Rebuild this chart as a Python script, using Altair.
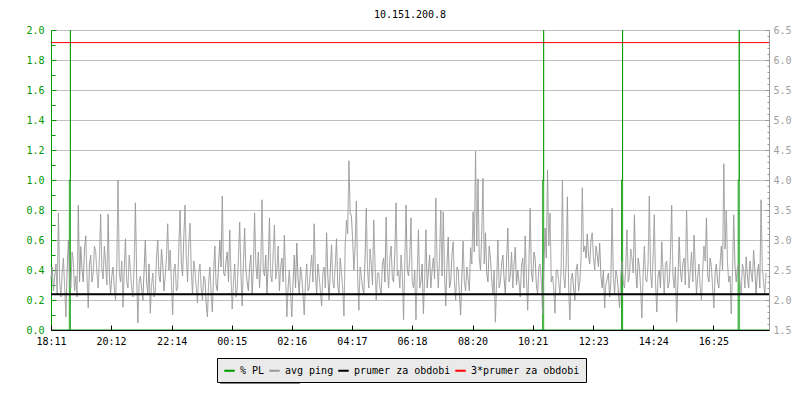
import json
import altair as alt
import pandas as pd

FONT = "DejaVu Sans Mono"
GREEN = "#009900"
GRAY = "#999999"

title_text = "10.151.200.8"

# x axis: minutes after 18:11
tick_labels = ["18:11", "20:12", "22:14", "00:15", "02:16", "04:17",
               "06:18", "08:20", "10:21", "12:23", "14:24", "16:25"]
tick_minutes = [0, 121, 243, 364, 485, 606, 727, 849, 970, 1092, 1213, 1334]
x_end = 1446
step_minutes = 2.5

# avg ping (ms), samples on the full 5-minute marks
ping_on_mark = [
    2.35, 2.15, 2.6, 3.45, 2.05, 2.7, 1.72, 3.0, 2.2, 2.65, 2.4, 3.58,
    2.89, 2.3, 3.07, 1.87, 2.75, 2.45, 2.8, 2.2, 3.43, 2.35, 2.6, 3.43,
    2.1, 2.55, 2.0, 4.0, 2.3, 1.88, 3.02, 2.2, 2.5, 2.05, 3.62, 1.62,
    2.4, 2.0, 3.0, 2.1, 1.78, 2.45, 2.15, 3.0, 2.3, 2.6, 2.4, 3.27,
    2.83, 1.75, 2.6, 2.2, 3.5, 2.4, 3.58, 2.3, 3.28, 2.1, 2.5, 1.95,
    2.6, 2.0, 2.35, 1.72, 2.55, 1.8, 2.9, 2.15, 3.0, 3.73, 2.4, 2.8,
    3.17, 1.85, 2.6, 2.2, 3.3, 1.9, 3.2, 2.3, 2.55, 2.1, 3.45, 2.35,
    2.2, 3.67, 2.4, 2.1, 3.37, 2.3, 3.25, 2.5, 2.15, 2.7, 3.08, 1.72,
    2.5, 1.72, 2.75, 2.95, 2.1, 2.4, 1.75, 2.6, 2.2, 2.75, 3.27, 2.1,
    2.4, 1.9, 2.55, 3.12, 2.0, 2.92, 2.2, 3.02, 2.1, 2.45, 1.73, 3.33,
    4.32, 3.4, 2.5, 3.65, 1.83, 2.4, 2.1, 3.53, 2.2, 2.6, 3.33, 2.0,
    2.45, 2.1, 2.7, 3.38, 2.2, 2.9, 2.3, 3.62, 2.5, 2.75, 1.67, 3.58,
    2.4, 3.37, 2.2, 1.67, 3.17, 2.3, 1.77, 3.17, 2.45, 2.2, 2.7, 3.7,
    2.2, 3.5, 3.47, 1.9, 3.05, 2.3, 2.97, 2.0, 2.5, 1.75, 2.98, 2.15,
    2.35, 2.87, 3.47, 4.48, 4.02, 2.5, 4.03, 3.12, 2.3, 2.7, 2.1, 1.63,
    3.0, 2.3, 2.75, 2.1, 3.2, 2.4, 2.2, 2.88, 2.5, 2.05, 2.7, 3.07,
    1.83, 3.53, 2.3, 2.7, 2.1, 2.6, 1.77, 3.2, 4.17, 3.45, 2.4, 1.78,
    2.5, 2.1, 4.0, 2.2, 3.72, 1.67, 2.45, 2.0, 2.6, 2.3, 3.87, 2.9,
    3.1, 2.6, 3.12, 2.5, 2.75, 2.95, 2.2, 1.87, 2.35, 2.05, 3.53, 2.1,
    2.4, 1.87, 2.65, 2.2, 3.17, 2.4, 2.7, 3.42, 2.2, 2.55, 1.7, 2.9,
    2.3, 3.73, 2.2, 3.42, 1.8, 2.5, 2.97, 2.1, 2.65, 2.3, 3.58, 2.2,
    1.63, 3.05, 2.3, 2.7, 3.5, 2.2, 2.8, 3.08, 2.1, 2.6, 2.0, 2.9,
    3.37, 2.3, 2.55, 1.87, 2.6, 2.2, 2.9, 4.27, 3.5, 2.3, 1.77, 3.42,
    2.3, 2.6, 2.1, 2.5, 2.72, 2.2, 2.45, 2.83, 2.1, 2.6, 3.67, 2.3,
    2.45,
]
# avg ping (ms), samples half-way between the marks
ping_half_mark = [
    2.55, 2.4, 2.1, 2.3, 2.45, 2.2, 2.5, 2.35, 2.8, 2.15, 2.05, 2.3,
    2.5, 2.85, 2.4, 2.6, 2.3, 2.9, 2.45, 2.7, 2.5, 2.9, 2.25, 2.4,
    2.4, 2.2, 2.6, 2.45, 2.65, 2.5, 2.3, 2.75, 2.2, 2.6, 2.4, 2.3,
    2.2, 2.5, 2.3, 2.6, 2.25, 2.05, 2.7, 2.4, 2.85, 2.15, 2.7, 2.5,
    2.3, 2.5, 2.15, 2.9, 2.6, 3.05, 2.7, 2.95, 2.5, 2.65, 2.2, 2.45,
    2.2, 2.4, 1.95, 2.3, 2.1, 2.45, 2.25, 2.6, 2.55, 2.45, 2.65, 2.3,
    2.4, 2.3, 2.05, 2.7, 2.45, 2.6, 2.5, 2.15, 2.75, 2.5, 2.6, 2.8,
    2.6, 2.5, 2.75, 2.6, 2.4, 2.8, 2.35, 2.9, 2.55, 2.3, 2.4, 2.2,
    2.1, 2.3, 2.2, 2.35, 2.55, 2.1, 2.3, 2.15, 2.5, 2.3, 2.45, 2.6,
    2.15, 2.45, 2.2, 2.4, 2.5, 2.3, 2.6, 2.25, 2.7, 2.2, 2.9, 3.1,
    3.45, 3.0, 2.9, 2.4, 2.55, 2.2, 2.7, 2.5, 2.85, 2.25, 2.6, 2.45,
    2.2, 2.6, 2.3, 2.5, 2.7, 2.35, 2.8, 2.4, 2.2, 2.45, 2.6, 2.5,
    2.7, 2.3, 2.5, 2.4, 2.2, 2.6, 2.35, 2.2, 2.75, 2.5, 2.35, 2.6,
    2.7, 2.4, 2.45, 2.6, 2.2, 2.75, 2.3, 2.55, 2.1, 2.4, 2.3, 2.55,
    2.15, 2.6, 2.8, 2.9, 2.7, 3.1, 2.6, 2.45, 2.9, 2.35, 2.5, 2.3,
    2.2, 2.6, 2.35, 2.65, 2.3, 2.8, 2.6, 2.25, 2.3, 2.55, 2.2, 2.4,
    2.6, 2.45, 2.8, 2.25, 2.55, 2.3, 2.5, 2.7, 2.9, 2.3, 2.2, 2.5,
    2.3, 2.55, 2.4, 2.6, 2.2, 2.35, 2.2, 2.5, 2.15, 2.7, 2.8, 2.7,
    2.75, 3.0, 2.7, 2.9, 2.55, 2.4, 2.5, 2.25, 2.45, 2.3, 2.4, 2.5,
    2.15, 2.4, 2.3, 2.55, 2.3, 2.85, 2.45, 2.5, 2.7, 2.2, 2.45, 2.35,
    2.6, 2.45, 2.7, 2.3, 2.4, 2.2, 2.5, 2.6, 2.2, 2.75, 2.4, 2.55,
    2.3, 2.5, 2.6, 2.25, 2.65, 2.5, 2.3, 2.55, 2.4, 2.2, 2.5, 2.65,
    2.4, 2.7, 2.2, 2.45, 2.3, 2.6, 2.5, 2.85, 2.6, 2.4, 2.5, 2.55,
    2.55, 2.3, 2.6, 2.2, 2.4, 2.65, 2.3, 2.5, 2.45, 2.2, 2.55, 2.1,
]

# packet loss (%)
pl_minutes = [0,
              36.9, 37, 39, 39.1, 39.2,
              989.9, 990, 992, 992.1, 992.2,
              1148.9, 1149, 1151, 1151.1, 1151.2,
              1383.9, 1384, 1386, 1386.1, 1386.2,
              1446]
pl_percent = [0,
              0, 1.0, 1.0, 2.5, 0,
              0, 1.0, 1.0, 2.5, 0,
              0, 1.0, 1.0, 2.5, 0,
              0, 1.0, 1.0, 2.5, 0,
              0]

avg_ms = 2.097
three_avg_ms = 6.29

series_names = ["% PL", "avg ping", "prumer za obdobi", "3*prumer za obdobi"]
series_colors = [GREEN, GRAY, "#000000", "#ff0000"]
shadow_names = ["_" + s for s in series_names]

left_ticks = [round(0.1 * k, 1) for k in range(21)]
right_ticks = [round(1.5 + 0.1 * k, 1) for k in range(51)]

W, H = 718, 300

# ---------------------------------------------------------------
ping_values = []
for a, b in zip(ping_on_mark, ping_half_mark):
    ping_values += [a, b]
ping_values.append(ping_on_mark[-1])
ping_minutes = [i * step_minutes for i in range(len(ping_values))]

x_label_expr = "{}[indexof({}, datum.value)]".format(json.dumps(tick_labels), json.dumps(tick_minutes))
left_major = "abs(datum.value*5 - round(datum.value*5)) < 0.001"
right_major = "abs(datum.value*2 - round(datum.value*2)) < 0.001"

x_axis = alt.Axis(values=tick_minutes, labelExpr=x_label_expr,
                  tickSize=alt.ExprRef(expr="-5"), labelPadding=11,
                  tickColor="black", domainColor="black", labelColor="black",
                  labelFont=FONT, labelFontSize=10, grid=False,
                  labelFlush=False, labelOverlap=False, zindex=1, title=None)

left_axis = alt.Axis(orient="left", values=left_ticks,
                     labelExpr=f"{left_major} ? format(datum.value, '.1f') : ''",
                     tickSize=alt.ExprRef(expr=f"{left_major} ? -5 : -4"),
                     labelPadding=12, tickColor=GREEN, domainColor=GREEN,
                     labelColor=GREEN, labelFont=FONT, labelFontSize=10,
                     labelOverlap=False, grid=True, gridColor="#c0c0c0",
                     gridOpacity={"condition": {"test": left_major, "value": 1}, "value": 0},
                     title=None)

right_axis = alt.Axis(orient="right", values=right_ticks,
                      labelExpr=f"{right_major} ? format(datum.value, '.1f') : ''",
                      tickSize=alt.ExprRef(expr=f"{right_major} ? -4 : -2"),
                      labelPadding=8, tickColor=GRAY, domainColor=GRAY,
                      labelColor="#a0a0a0", labelFont=FONT, labelFontSize=10,
                      labelOverlap=False, grid=False, title=None)

x_enc = alt.X("t:Q", scale=alt.Scale(domain=[0, x_end], nice=False, zero=False), axis=x_axis)
y_left = alt.Y("v:Q", scale=alt.Scale(domain=[0, 2], nice=False, zero=False), axis=left_axis)
y_right = alt.Y("v:Q", scale=alt.Scale(domain=[1.5, 6.5], nice=False, zero=False), axis=right_axis)

NBSP = "\u00a0"
legend_common = dict(orient="none", direction="horizontal", title=None,
                     symbolType="stroke", symbolSize=110, symbolStrokeWidth=2,
                     labelFont=FONT, labelFontSize=10, labelColor="black",
                     labelOffset=4, columnPadding=0, padding=6)
main_legend = alt.Legend(legendX=166, legendY=328, fillColor="#eaeaea",
                         strokeColor="black", zindex=1, **legend_common)
shadow_legend = alt.Legend(legendX=169, legendY=331, fillColor="#808080",
                           symbolOpacity=0,
                           labelExpr=f"replace(slice(datum.label, 1), regexp('.', 'g'), '{NBSP}')",
                           zindex=0, **legend_common)

color_enc = alt.Color("s:N", scale=alt.Scale(domain=series_names, range=series_colors),
                      legend=main_legend)
dash_enc = alt.StrokeDash("d:N", scale=alt.Scale(domain=shadow_names, range=[[1, 0]] * 4),
                          legend=shadow_legend)

df_pl = pd.DataFrame({"t": pl_minutes, "v": pl_percent, "s": series_names[0], "d": shadow_names[0]})
df_ping = pd.DataFrame({"t": ping_minutes, "v": ping_values, "s": series_names[1], "d": shadow_names[1]})
df_avg = pd.DataFrame({"v": [avg_ms], "s": [series_names[2]], "d": [shadow_names[2]]})
df_3avg = pd.DataFrame({"v": [three_avg_ms], "s": [series_names[3]], "d": [shadow_names[3]]})

pl_layer = alt.Chart(df_pl).mark_line(clip=True, strokeWidth=1).encode(
    x=x_enc, y=y_left, color=color_enc, strokeDash=dash_enc)
ping_layer = alt.Chart(df_ping).mark_line(strokeWidth=1).encode(
    x=x_enc, y=y_right, color=color_enc, strokeDash=dash_enc)
avg_layer = alt.Chart(df_avg).mark_rule(strokeWidth=2).encode(
    y=y_right, color=color_enc, strokeDash=dash_enc)
red_layer = alt.Chart(df_3avg).mark_rule(strokeWidth=1).encode(
    y=y_right, color=color_enc, strokeDash=dash_enc)

right_group = alt.layer(ping_layer, avg_layer, red_layer)

chart = alt.layer(pl_layer, right_group).resolve_scale(y="independent").properties(
    width=W, height=H,
    title=alt.TitleParams(text=title_text, font=FONT, fontSize=10, fontWeight="normal",
                          color="black", anchor="middle", offset=5),
    padding={"left": 43, "top": 22, "right": 23, "bottom": 54},
    autosize=alt.AutoSizeParams(type="none"),
).configure_view(strokeWidth=0).configure(background="white")

chart.save("out.html", embed_options={"renderer": "svg", "actions": False})
